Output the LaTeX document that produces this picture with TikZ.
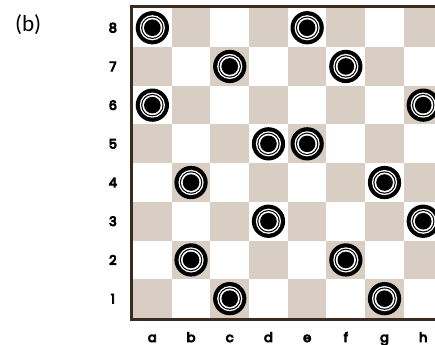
\documentclass[tikz,border=0pt]{standalone}
\usepackage{fontspec}
\usepackage{xcolor}
\usepackage{tikz}
\newfontfamily\boardfont{Poppins}[FakeBold=7]
\newfontfamily\panelfont{Carlito}
\definecolor{boardtan}{RGB}{216,206,195}
\definecolor{boardedge}{RGB}{58,42,32}

\begin{document}
\begin{tikzpicture}[x=1cm, y=1cm,
    coordlabel/.style={font=\boardfont\fontsize{9.5}{11}\selectfont, inner sep=0pt},
    panellabel/.style={font=\panelfont\fontsize{17}{20}\selectfont, inner sep=0pt}]
  \useasboundingbox (-3.437,-0.698) rectangle (7.804,8.217);
  \clip (-3.437,-0.698) rectangle (7.804,8.217);
  % Board squares (x+y even = tan, odd = white)
  \foreach \x in {0,...,7} {
    \foreach \y in {0,...,7} {
      \pgfmathtruncatemacro\sqsum{\x+\y}
      \ifodd\sqsum
        \fill[white] (\x,\y) rectangle (\x+1,\y+1);
      \else
        \fill[boardtan] (\x,\y) rectangle (\x+1,\y+1);
      \fi
    }
  }
  % Frame (right side runs off the picture)
  \draw[boardedge, line width=0.078cm] (-0.04,-0.04) rectangle (8.04,8.04);
  % Pieces: file/rank, counted from 0
  \foreach \c/\r in {0/7,4/7,2/6,5/6,0/5,7/5,3/4,4/4,1/3,6/3,3/2,7/2,1/1,5/1,2/0,6/0} {
    \fill[black] (\c+0.5,\r+0.5) circle (0.43);
    \fill[white] (\c+0.5,\r+0.5) circle (0.325);
    \fill[black] (\c+0.5,\r+0.5) circle (0.29);
    \fill[white] (\c+0.5,\r+0.5) circle (0.26);
    \fill[black] (\c+0.5,\r+0.5) circle (0.215);
  }
  % Ranks and files
  \foreach \n in {1,...,8}
    \node[coordlabel] (rank-\n) at (-0.52,\n-0.5) {\n};
  \foreach \f [count=\i from 0] in {a,b,c,d,e,f,g,h}
    \node[coordlabel, anchor=base] (file-\f) at (\i+0.5,-0.62) {\f};
  % Panel tag
  \node[panellabel] (panel) at (-2.71,7.59) {(b)};
\end{tikzpicture}
\end{document}
